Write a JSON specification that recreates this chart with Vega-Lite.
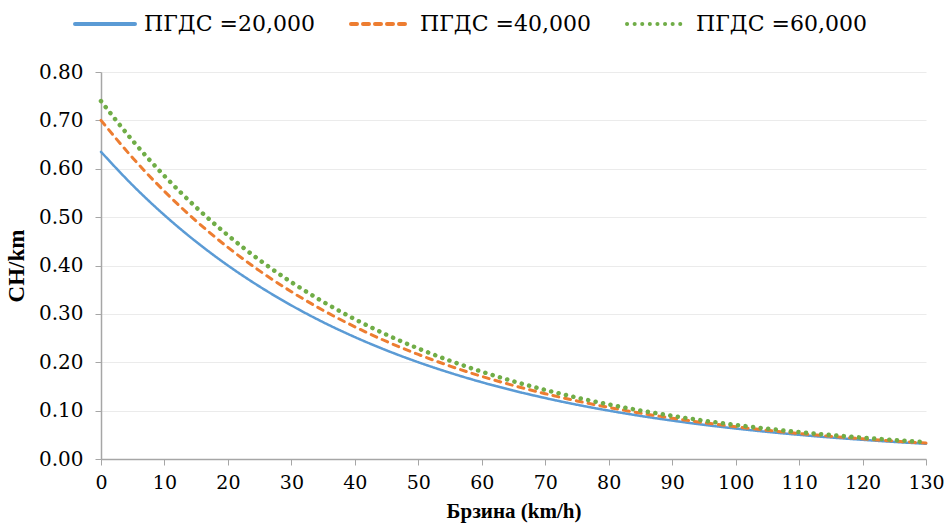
{
  "$schema": "https://vega.github.io/schema/vega-lite/v6.json",
  "autosize": "none",
  "width": 825,
  "height": 387,
  "padding": {"left": 101, "top": 72, "right": 20, "bottom": 72},
  "background": "white",
  "config": {
    "view": {"stroke": null}
  },
  "data": {"values": [
    {"x": 0, "s": "ПГДС =20,000", "y": 0.635}, {"x": 5, "s": "ПГДС =20,000", "y": 0.5657}, {"x": 10, "s": "ПГДС =20,000", "y": 0.504}, {"x": 15, "s": "ПГДС =20,000", "y": 0.449}, {"x": 20, "s": "ПГДС =20,000", "y": 0.4}, {"x": 25, "s": "ПГДС =20,000", "y": 0.3564}, {"x": 30, "s": "ПГДС =20,000", "y": 0.3175}, {"x": 35, "s": "ПГДС =20,000", "y": 0.2828}, {"x": 40, "s": "ПГДС =20,000", "y": 0.252}, {"x": 45, "s": "ПГДС =20,000", "y": 0.2245}, {"x": 50, "s": "ПГДС =20,000", "y": 0.2}, {"x": 55, "s": "ПГДС =20,000", "y": 0.1782}, {"x": 60, "s": "ПГДС =20,000", "y": 0.1587}, {"x": 65, "s": "ПГДС =20,000", "y": 0.1414}, {"x": 70, "s": "ПГДС =20,000", "y": 0.126}, {"x": 75, "s": "ПГДС =20,000", "y": 0.1122}, {"x": 80, "s": "ПГДС =20,000", "y": 0.1}, {"x": 85, "s": "ПГДС =20,000", "y": 0.0891}, {"x": 90, "s": "ПГДС =20,000", "y": 0.0794}, {"x": 95, "s": "ПГДС =20,000", "y": 0.0707}, {"x": 100, "s": "ПГДС =20,000", "y": 0.063}, {"x": 105, "s": "ПГДС =20,000", "y": 0.0561}, {"x": 110, "s": "ПГДС =20,000", "y": 0.05}, {"x": 115, "s": "ПГДС =20,000", "y": 0.0445}, {"x": 120, "s": "ПГДС =20,000", "y": 0.0397}, {"x": 125, "s": "ПГДС =20,000", "y": 0.0353}, {"x": 130, "s": "ПГДС =20,000", "y": 0.0315},
    {"x": 0, "s": "ПГДС =40,000", "y": 0.7}, {"x": 5, "s": "ПГДС =40,000", "y": 0.6224}, {"x": 10, "s": "ПГДС =40,000", "y": 0.5533}, {"x": 15, "s": "ПГДС =40,000", "y": 0.492}, {"x": 20, "s": "ПГДС =40,000", "y": 0.4374}, {"x": 25, "s": "ПГДС =40,000", "y": 0.3889}, {"x": 30, "s": "ПГДС =40,000", "y": 0.3458}, {"x": 35, "s": "ПГДС =40,000", "y": 0.3074}, {"x": 40, "s": "ПГДС =40,000", "y": 0.2733}, {"x": 45, "s": "ПГДС =40,000", "y": 0.243}, {"x": 50, "s": "ПГДС =40,000", "y": 0.2161}, {"x": 55, "s": "ПГДС =40,000", "y": 0.1921}, {"x": 60, "s": "ПГДС =40,000", "y": 0.1708}, {"x": 65, "s": "ПГДС =40,000", "y": 0.1519}, {"x": 70, "s": "ПГДС =40,000", "y": 0.135}, {"x": 75, "s": "ПГДС =40,000", "y": 0.12}, {"x": 80, "s": "ПГДС =40,000", "y": 0.1067}, {"x": 85, "s": "ПГДС =40,000", "y": 0.0949}, {"x": 90, "s": "ПГДС =40,000", "y": 0.0844}, {"x": 95, "s": "ПГДС =40,000", "y": 0.075}, {"x": 100, "s": "ПГДС =40,000", "y": 0.0667}, {"x": 105, "s": "ПГДС =40,000", "y": 0.0593}, {"x": 110, "s": "ПГДС =40,000", "y": 0.0527}, {"x": 115, "s": "ПГДС =40,000", "y": 0.0469}, {"x": 120, "s": "ПГДС =40,000", "y": 0.0417}, {"x": 125, "s": "ПГДС =40,000", "y": 0.0371}, {"x": 130, "s": "ПГДС =40,000", "y": 0.033},
    {"x": 0, "s": "ПГДС  =60,000", "y": 0.74}, {"x": 5, "s": "ПГДС  =60,000", "y": 0.6579}, {"x": 10, "s": "ПГДС  =60,000", "y": 0.585}, {"x": 15, "s": "ПГДС  =60,000", "y": 0.5201}, {"x": 20, "s": "ПГДС  =60,000", "y": 0.4624}, {"x": 25, "s": "ПГДС  =60,000", "y": 0.4111}, {"x": 30, "s": "ПГДС  =60,000", "y": 0.3655}, {"x": 35, "s": "ПГДС  =60,000", "y": 0.325}, {"x": 40, "s": "ПГДС  =60,000", "y": 0.289}, {"x": 45, "s": "ПГДС  =60,000", "y": 0.2569}, {"x": 50, "s": "ПГДС  =60,000", "y": 0.2284}, {"x": 55, "s": "ПГДС  =60,000", "y": 0.2031}, {"x": 60, "s": "ПГДС  =60,000", "y": 0.1806}, {"x": 65, "s": "ПГДС  =60,000", "y": 0.1606}, {"x": 70, "s": "ПГДС  =60,000", "y": 0.1428}, {"x": 75, "s": "ПГДС  =60,000", "y": 0.1269}, {"x": 80, "s": "ПГДС  =60,000", "y": 0.1128}, {"x": 85, "s": "ПГДС  =60,000", "y": 0.1003}, {"x": 90, "s": "ПГДС  =60,000", "y": 0.0892}, {"x": 95, "s": "ПГДС  =60,000", "y": 0.0793}, {"x": 100, "s": "ПГДС  =60,000", "y": 0.0705}, {"x": 105, "s": "ПГДС  =60,000", "y": 0.0627}, {"x": 110, "s": "ПГДС  =60,000", "y": 0.0557}, {"x": 115, "s": "ПГДС  =60,000", "y": 0.0496}, {"x": 120, "s": "ПГДС  =60,000", "y": 0.0441}, {"x": 125, "s": "ПГДС  =60,000", "y": 0.0392}, {"x": 130, "s": "ПГДС  =60,000", "y": 0.0348}
  ]},
  "encoding": {
    "x": {"field": "x", "type": "quantitative", "scale": {"domain": [0, 130], "nice": false},
      "axis": {"values": [0,10,20,30,40,50,60,70,80,90,100,110,120,130], "title": "Брзина (km/h)", "grid": false,
        "labelFont": "DejaVu Serif", "titleFont": "Liberation Serif", "labelColor": "#000000", "titleColor": "#000000",
        "domainColor": "#A6A6A6", "domainWidth": 1.5, "tickColor": "#A6A6A6", "tickSize": 6, "labelFontSize": 19, "labelPadding": 8,
        "titleFontSize": 21, "titleFontWeight": "bold", "titlePadding": 8, "labelFlush": false}},
    "y": {"field": "y", "type": "quantitative", "scale": {"domain": [0, 0.8], "nice": false},
      "axis": {"values": [0,0.1,0.2,0.3,0.4,0.5,0.6,0.7,0.8], "format": ".2f", "title": "CH/km", "grid": true, "gridColor": "#EBEBEB", "gridWidth": 1.2,
        "labelFont": "DejaVu Serif", "titleFont": "Liberation Serif", "labelColor": "#000000", "titleColor": "#000000",
        "domainColor": "#A6A6A6", "domainWidth": 1.5, "tickColor": "#A6A6A6", "tickSize": 6, "labelFontSize": 20, "labelPadding": 12,
        "titleFontSize": 23, "titleFontWeight": "bold", "titlePadding": 10}},
    "color": {"field": "s", "type": "nominal",
      "scale": {"domain": ["ПГДС =20,000", "ПГДС =40,000", "ПГДС  =60,000"], "range": ["#5B9BD5", "#ED7D31", "#70AD47"]},
      "legend": {"orient": "none", "legendX": -28, "legendY": -80, "direction": "horizontal", "title": null,
        "symbolType": "stroke", "symbolSize": 3600, "symbolStrokeWidth": 4, "labelFontSize": 22, "labelColor": "#000000", "labelFont": "DejaVu Serif",
        "labelLimit": 400, "labelOffset": 7, "columnPadding": 28, "symbolOffset": 0,
        "encode": {"symbols": {"update": {"strokeCap": {"value": "round"}}}}}},
    "strokeDash": {"field": "s", "type": "nominal",
      "scale": {"domain": ["ПГДС =20,000", "ПГДС =40,000", "ПГДС  =60,000"], "range": [[1, 0], [6, 6], [0.1, 7.5]]},
      "legend": null}
  },
  "layer": [
    {"transform": [{"filter": "datum.s == 'ПГДС =20,000'"}], "mark": {"type": "line", "interpolate": "monotone", "strokeCap": "round", "strokeWidth": 2.5}},
    {"transform": [{"filter": "datum.s == 'ПГДС =40,000'"}], "mark": {"type": "line", "interpolate": "monotone", "strokeCap": "round", "strokeWidth": 3}},
    {"transform": [{"filter": "datum.s == 'ПГДС  =60,000'"}], "mark": {"type": "line", "interpolate": "monotone", "strokeCap": "round", "strokeWidth": 4.5}}
  ]
}
